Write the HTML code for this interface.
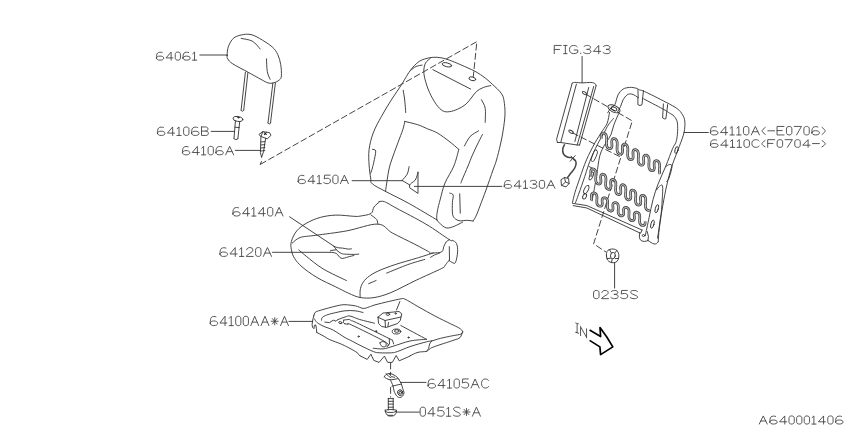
<!DOCTYPE html><html><head><meta charset="utf-8"><style>html,body{margin:0;padding:0;background:#fff;width:850px;height:425px;overflow:hidden}svg{display:block}text{font-family:"Liberation Sans",sans-serif;font-size:13px;fill:#444}</style></head><body>
<svg width="850" height="425" viewBox="0 0 850 425">
<g fill="none" stroke="#303030" stroke-width="0.9" stroke-linejoin="round" stroke-linecap="round">
<path d="M227.1,55.4 C227.2,53.3 227.3,49.2 228.5,46.2 C229.7,43.2 231.6,39.6 234.1,37.7 C236.6,35.8 240.5,35.1 243.3,34.6 C246.1,34.1 248.3,34.0 251.0,34.6 C253.7,35.2 256.0,36.4 259.5,38.4 C263.0,40.4 269.1,44.2 272.2,46.9 C275.2,49.6 276.4,51.7 277.8,54.6 C279.2,57.5 280.1,61.0 280.7,64.5 C281.3,68.0 281.6,73.2 281.4,75.8 C281.2,78.4 280.6,78.8 279.3,80.0 C278.0,81.2 275.5,82.4 273.6,82.9 C271.7,83.4 270.1,83.5 268.0,82.9 C265.9,82.3 264.3,81.2 261.0,79.4 C257.7,77.6 252.9,74.9 248.2,72.3 C243.5,69.7 236.1,66.0 232.7,63.8 C229.3,61.6 228.7,60.3 227.8,58.9 C226.9,57.5 227.0,57.5 227.1,55.4Z"/>
<path d="M241.2,38.4 C243.1,38.9 249.2,39.4 252.4,41.2 C255.6,43.0 258.9,47.7 260.2,49.0"/>
<path d="M266.5,58.9 C266.6,61.0 266.7,68.2 267.3,71.6 C267.9,75.0 269.6,78.0 270.1,79.3"/>
<path d="M241.1,110.2 C241.3,110.4 242.0,111.3 242.4,111.3 C242.8,111.3 243.5,110.4 243.7,110.2"/>
<path d="M268.0,123.0 C268.2,123.2 268.9,124.1 269.3,124.1 C269.7,124.1 270.3,123.2 270.5,123.0"/>
<path d="M234.0,138.6 C234.3,138.8 235.2,139.7 235.9,139.7 C236.6,139.7 237.6,138.8 237.9,138.6"/>
<path d="M437.4,220.2 C432.7,217.4 418.0,208.5 409.4,203.7 C400.8,198.9 391.7,194.7 385.5,191.4 C379.3,188.1 374.9,186.1 372.4,183.9 C369.9,181.7 371.2,181.2 370.7,178.0 C370.1,174.8 369.4,169.8 369.1,165.0 C368.8,160.2 368.4,154.7 369.1,149.4 C369.8,144.1 371.1,138.5 373.2,133.0 C375.2,127.5 378.4,122.0 381.4,116.5 C384.4,111.0 387.9,105.3 391.3,100.0 C394.7,94.7 399.1,88.5 401.6,84.5 C404.1,80.5 404.9,78.9 406.5,76.3 C408.1,73.7 409.6,71.2 411.5,68.9 C413.4,66.6 415.8,63.9 418.0,62.3 C420.2,60.6 422.1,59.8 424.6,59.0 C427.1,58.2 430.1,57.5 432.9,57.3 C435.6,57.1 438.4,57.3 441.1,57.8 C443.8,58.3 446.0,58.9 449.3,60.1 C452.6,61.3 456.5,62.9 460.8,64.8 C465.1,66.7 470.9,69.1 475.0,71.3 C479.1,73.5 482.2,75.8 485.2,78.0 C488.1,80.2 490.0,82.1 492.7,84.6 C495.4,87.1 499.3,90.5 501.2,93.2 C503.1,95.9 503.4,97.2 504.0,100.7 C504.6,104.2 505.1,108.9 505.0,113.9 C504.9,118.9 503.9,125.6 503.1,130.8 C502.3,136.0 501.4,140.1 500.3,145.0 C499.2,149.9 497.7,155.8 496.5,160.0 C495.3,164.2 494.8,165.0 493.0,170.0 C491.2,175.0 488.2,184.0 486.0,190.0 C483.8,196.0 481.6,201.8 480.0,206.0 C478.4,210.2 477.6,212.5 476.5,215.0 C475.4,217.5 473.8,220.0 473.2,221.0"/>
<path d="M473.2,221.0 C472.0,220.9 468.3,220.3 466.2,220.3 C464.1,220.3 462.1,221.1 460.3,220.9 C458.5,220.7 456.9,220.2 455.6,219.1 C454.3,218.0 453.1,217.2 452.6,214.4 C452.1,211.7 452.3,205.8 452.4,202.6 C452.5,199.4 453.6,196.6 453.2,195.0 C452.8,193.4 450.3,193.5 449.7,193.2"/>
<path d="M385.5,191.4 C385.8,189.5 386.6,183.4 387.2,179.8 C387.8,176.2 388.1,173.1 388.8,170.0 C389.5,166.9 389.8,165.5 391.3,161.0 C392.8,156.5 396.0,148.0 397.9,142.8 C399.8,137.6 401.6,133.3 402.8,129.7 C404.0,126.1 404.5,122.8 404.8,121.4"/>
<path d="M404.8,121.4 C406.9,122.0 413.9,123.5 417.7,124.7 C421.5,125.9 424.2,127.4 427.5,128.8 C430.8,130.2 433.8,130.9 437.4,133.0 C441.0,135.1 445.4,138.5 449.0,141.2 C452.6,143.9 457.2,148.0 458.8,149.4"/>
<path d="M458.8,149.4 C458.0,152.2 456.2,160.3 453.9,165.9 C451.6,171.5 447.3,177.5 445.0,183.0 C442.7,188.5 441.6,194.4 440.3,199.1 C439.0,203.8 438.0,207.6 437.4,210.9 C436.8,214.2 436.5,217.2 436.8,219.1 C437.1,221.0 437.5,221.1 439.1,222.6 C440.7,224.1 443.6,227.3 446.2,227.9 C448.8,228.5 451.7,227.2 454.4,226.2 C457.1,225.2 461.2,222.8 462.6,222.1"/>
<path d="M482.4,134.6 C481.4,136.5 478.4,142.3 476.7,145.9 C475.0,149.5 473.4,152.7 472.0,156.0 C470.6,159.3 469.7,162.0 468.0,166.0 C466.3,170.0 463.2,177.2 462.0,180.0 C460.8,182.8 461.2,182.5 461.0,183.0"/>
<path d="M478.6,130.8 C477.2,131.8 472.5,134.0 470.1,136.5 C467.8,139.0 465.4,144.3 464.5,145.9"/>
<path d="M481.4,99.8 C482.0,101.2 484.6,104.4 485.2,108.2 C485.8,112.0 485.2,120.0 485.2,122.4"/>
<path d="M430.4,58.2 C429.6,59.0 426.6,60.9 425.5,63.1 C424.4,65.3 423.8,68.3 423.8,71.3 C423.8,74.3 424.5,77.6 425.5,81.2 C426.5,84.8 427.8,88.9 429.6,92.7 C431.4,96.5 434.0,101.3 436.2,104.3 C438.4,107.3 440.5,109.6 442.7,110.8 C444.9,112.0 446.8,112.0 449.3,111.7 C451.8,111.4 454.9,110.4 457.6,109.2 C460.4,108.0 463.4,106.3 465.8,104.3 C468.2,102.3 470.2,99.2 472.0,97.0 C473.8,94.8 474.8,92.9 476.7,91.3 C478.6,89.7 480.9,88.5 483.3,87.5 C485.7,86.5 489.6,85.9 490.8,85.6"/>
<path d="M411.5,69.7 C412.2,69.2 414.2,67.3 416.0,66.5 C417.8,65.7 421.2,65.3 422.2,65.1"/>
<path d="M403.2,90.3 C403.5,92.1 404.4,97.3 404.8,101.0 C405.2,104.7 405.6,110.6 405.7,112.5"/>
<path d="M372.4,149.4 C372.9,149.7 375.5,149.0 375.7,151.1 C375.9,153.2 374.4,159.2 373.8,162.0 C373.2,164.8 372.9,166.1 372.4,168.0 C371.9,169.9 371.0,172.3 370.7,173.2"/>
<path d="M409.1,166.6 C408.8,167.8 408.4,171.8 407.2,174.1 C406.0,176.4 403.0,179.3 402.1,180.4"/>
<path d="M418.0,172.2 C417.9,172.8 417.6,174.2 417.1,175.5 C416.6,176.8 416.1,178.9 415.2,180.2 C414.3,181.4 412.4,182.2 411.5,183.0 C410.6,183.8 409.9,184.6 409.6,184.9"/>
<path d="M379.6,201.7 C378.7,202.6 375.4,205.0 374.0,207.0 C372.6,209.0 373.3,212.0 371.0,213.5 C368.7,215.0 362.9,215.6 360.0,216.1 C357.1,216.6 357.8,216.5 353.8,216.3 C349.8,216.1 341.5,214.9 335.9,215.1 C330.3,215.3 325.1,216.1 320.3,217.4 C315.5,218.7 310.7,220.8 306.8,223.0 C302.9,225.2 299.4,227.7 296.8,230.8 C294.2,233.9 292.3,238.2 291.4,241.4 C290.5,244.6 290.9,247.0 291.4,249.8 C291.9,252.6 292.7,255.5 294.5,258.3 C296.3,261.1 298.3,263.6 302.0,266.8 C305.7,270.0 311.2,274.0 316.8,277.4 C322.4,280.8 330.5,284.3 335.8,286.9 C341.1,289.5 344.4,291.4 348.5,293.2 C352.6,295.0 356.0,296.8 360.2,297.5 C364.4,298.2 368.8,298.4 373.9,297.6 C379.0,296.8 383.8,295.5 390.9,292.6 C397.9,289.7 407.8,284.2 416.2,280.2 C424.6,276.2 436.9,270.9 441.6,268.5 C446.4,266.1 443.6,267.0 444.7,265.9 C445.8,264.8 447.1,262.5 447.9,261.6 C448.7,260.7 449.2,260.8 449.5,260.6"/>
<path d="M378.9,201.7 C379.8,201.7 381.5,200.6 384.5,201.7 C387.5,202.8 389.9,204.7 396.8,208.4 C403.7,212.1 417.1,218.9 425.9,224.1 C434.7,229.3 445.0,237.0 449.4,239.7 C453.8,242.4 451.1,239.7 452.3,240.3 C453.5,240.9 455.6,241.6 456.5,243.5 C457.4,245.4 457.8,248.7 457.6,251.9 C457.4,255.1 456.4,260.7 455.5,262.5 C454.6,264.3 453.4,262.9 452.3,262.5 C451.2,262.1 449.6,260.8 449.1,260.4"/>
<path d="M449.4,239.7 C448.8,240.1 447.0,240.8 446.1,242.0 C445.2,243.2 444.5,244.9 443.8,246.6 C443.1,248.2 443.5,250.8 441.7,251.9 C439.9,253.0 435.3,252.8 433.2,253.0 C431.1,253.2 429.9,253.2 429.3,253.2"/>
<path d="M292.3,243.1 C293.6,242.2 296.2,238.8 300.1,237.5 C304.0,236.2 308.0,236.4 315.8,235.3 C323.6,234.2 336.8,232.7 347.1,230.8 C357.4,228.9 370.2,223.7 377.8,224.1 C385.4,224.5 386.2,229.7 392.4,233.0 C398.5,236.3 408.5,241.0 414.7,244.2 C420.9,247.4 426.9,250.7 429.3,252.0"/>
<path d="M371.0,215.0 C371.9,215.8 375.6,218.1 376.7,219.6 C377.8,221.1 377.6,223.3 377.8,224.1"/>
<path d="M360.2,297.5 C360.2,296.3 359.8,292.4 360.2,290.1 C360.6,287.8 361.1,285.8 362.3,283.7 C363.5,281.6 365.0,279.5 367.6,277.4 C370.2,275.3 373.6,273.1 378.2,271.0 C382.8,268.9 388.8,266.7 395.1,264.6 C401.5,262.5 410.0,260.2 416.3,258.3 C422.6,256.4 430.4,253.9 433.2,253.0"/>
<path d="M368.7,283.7 C369.9,283.2 374.9,281.0 376.1,280.5"/>
<path d="M386.7,273.1 C390.2,271.7 401.4,266.9 407.8,264.6 C414.2,262.3 422.0,260.3 424.8,259.4"/>
<path d="M430.6,257.3 C431.2,256.9 433.0,255.7 434.5,255.0 C436.0,254.3 438.7,253.5 439.5,253.2"/>
<path d="M298.8,249.8 C300.0,250.9 302.1,253.0 306.2,256.2 C310.2,259.4 316.4,264.8 323.1,268.9 C329.8,272.9 342.5,278.6 346.4,280.5"/>
<path d="M334.1,246.3 C334.7,246.5 336.3,247.4 337.7,247.7 C339.1,248.0 340.9,247.9 342.6,248.1 C344.4,248.3 346.7,249.0 348.2,249.1 C349.7,249.2 350.9,248.9 351.4,248.8"/>
<path d="M334.1,246.3 C334.6,247.0 335.8,249.3 337.0,250.5 C338.2,251.7 339.9,252.8 341.2,253.4 C342.5,254.0 342.6,253.9 344.7,254.1 C346.8,254.3 351.5,254.4 353.9,254.4 C356.2,254.4 358.0,254.2 358.8,254.1"/>
<path d="M330.6,252.3 C331.5,252.5 334.4,252.4 336.2,253.4 C338.0,254.4 339.2,257.7 341.2,258.3 C343.2,258.9 346.1,257.4 348.2,256.9 C350.3,256.4 352.9,255.7 353.9,255.5"/>
<path d="M313.9,315.5 C314.1,314.9 314.4,313.1 315.4,312.2 C316.4,311.3 317.9,311.1 320.1,310.4 C322.3,309.7 325.5,308.8 328.5,308.0 C331.5,307.2 335.1,306.2 337.9,305.6 C340.6,305.1 342.1,304.6 345.0,304.7 C347.9,304.8 352.5,305.3 355.5,305.9 C358.5,306.5 360.8,308.2 363.1,308.4 C365.4,308.6 367.2,307.5 369.2,306.9 C371.2,306.3 371.8,305.8 375.0,304.9 C378.2,304.0 384.4,302.5 388.7,301.5 C393.0,300.5 398.1,299.3 400.8,298.9 C403.5,298.5 402.2,297.9 405.1,299.2 C408.0,300.5 413.0,303.8 418.0,306.6 C423.0,309.4 429.7,313.2 435.1,316.1 C440.5,319.0 446.6,321.8 450.6,323.8 C454.6,325.8 457.2,326.8 459.2,328.1 C461.2,329.4 462.3,330.5 462.6,331.5 C462.9,332.5 462.6,333.4 460.9,334.1 C459.2,334.8 455.7,335.1 452.3,335.8 C448.9,336.5 443.7,337.5 440.3,338.4 C436.9,339.3 433.1,340.6 431.7,341.0"/>
<path d="M462.6,331.5 C462.2,332.5 461.5,336.1 460.1,337.5 C458.7,338.9 456.7,339.1 454.0,340.1 C451.3,341.1 447.1,342.4 443.7,343.5 C440.3,344.6 435.7,346.1 433.4,347.0 C431.1,347.9 431.1,348.0 430.0,348.7 C428.9,349.4 428.5,350.7 426.5,351.3 C424.5,351.9 420.8,351.6 418.0,352.3 C415.2,353.1 411.3,355.2 410.0,355.8"/>
<path d="M431.7,341.0 C431.4,341.5 430.1,342.8 429.6,344.0 C429.1,345.2 429.1,347.3 428.6,348.5 C428.1,349.7 426.9,350.8 426.5,351.3"/>
<path d="M316.8,332.5 C318.0,333.1 321.7,335.0 323.8,336.2 C325.9,337.4 326.5,338.1 329.5,339.5 C332.5,340.9 338.1,342.7 341.7,344.3 C345.3,345.9 348.3,347.5 350.9,348.9 C353.4,350.3 355.5,351.5 357.0,352.6 C358.5,353.8 359.5,355.3 360.0,355.8"/>
<path d="M314.4,318.8 C314.9,319.4 315.6,321.3 317.2,322.6 C318.8,323.9 321.1,325.1 323.8,326.4 C326.5,327.6 329.7,328.2 333.2,330.1 C336.7,332.0 342.1,335.9 345.0,337.6 C347.9,339.3 348.4,339.2 350.9,340.5 C353.4,341.8 356.3,343.5 360.0,345.3 C363.7,347.1 369.9,350.2 373.2,351.5 C376.5,352.8 376.7,352.6 379.8,352.8 C382.9,353.0 388.7,353.0 391.6,352.8 C394.6,352.6 394.4,352.5 397.5,351.5 C400.6,350.5 405.2,348.2 410.0,346.6 C414.8,345.0 422.9,342.7 426.5,341.8 C430.1,340.9 430.8,341.1 431.7,341.0"/>
<path d="M373.2,348.2 C374.9,348.3 379.8,349.2 383.1,348.9 C386.4,348.6 388.4,347.6 392.9,346.3 C397.4,345.0 404.4,342.2 410.0,341.0 C415.6,339.8 423.8,339.6 426.5,339.3"/>
<path d="M400.8,325.5 C405.1,327.8 422.2,337.0 426.5,339.3"/>
<path d="M321.5,320.2 C321.6,319.7 321.5,318.2 322.4,317.4 C323.2,316.5 324.8,315.8 326.6,315.1 C328.4,314.4 330.1,313.9 333.2,313.2 C336.3,312.5 341.4,311.2 345.0,310.8 C348.6,310.4 352.0,310.5 355.0,310.8 C358.0,311.1 361.7,312.2 363.0,312.5"/>
<path d="M337.5,319.8 C338.8,319.3 342.9,317.6 345.0,317.0 C347.1,316.4 347.6,315.6 350.0,316.0 C352.4,316.4 355.6,318.3 359.7,319.5 C363.8,320.7 372.0,322.6 374.5,323.2"/>
<path d="M343.8,320.1 C344.7,320.0 347.9,319.4 349.1,319.5 C350.3,319.6 350.0,320.1 351.2,320.6 C352.4,321.1 350.1,319.7 356.5,322.7 C362.9,325.7 383.3,335.6 389.3,338.6 C395.3,341.6 391.8,339.8 392.5,340.7 C393.2,341.6 393.4,343.4 393.6,343.9"/>
<path d="M344.8,323.8 C345.3,323.9 346.9,324.1 348.0,324.3 C349.1,324.5 345.0,321.9 351.2,324.8 C357.4,327.7 379.1,338.2 385.1,341.8 C391.1,345.4 386.9,345.7 387.2,346.5"/>
<path d="M343.8,320.1 C343.8,320.5 343.3,321.9 343.5,322.5 C343.7,323.1 344.6,323.6 344.8,323.8"/>
<path d="M380.0,342.8 C380.2,342.0 382.0,341.5 383.0,341.6 C384.0,341.7 385.6,342.5 386.0,343.3 C386.4,344.1 386.2,346.0 385.5,346.5 C384.8,347.0 382.9,347.0 382.0,346.4 C381.1,345.8 379.8,343.6 380.0,342.8Z"/>
<path d="M384.2,377.1 C384.5,376.7 385.0,375.1 386.0,374.5 C387.0,373.9 388.7,373.4 390.0,373.5 C391.3,373.6 392.8,374.3 394.0,375.0 C395.2,375.7 396.7,376.8 397.5,377.5 C398.3,378.2 398.5,378.9 398.7,379.2"/>
<path d="M385.0,377.6 C385.7,377.9 387.5,379.3 389.0,379.6 C390.5,379.9 392.6,379.6 394.0,379.4 C395.4,379.2 396.9,378.7 397.5,378.6"/>
<path d="M386.2,373.6 C386.6,374.0 387.7,375.5 388.5,376.2 C389.3,376.9 390.6,377.4 391.0,377.6"/>
<path d="M389.5,374.2 C389.8,374.6 390.7,376.0 391.5,376.5 C392.3,377.0 394.0,377.2 394.5,377.3"/>
<path d="M390.6,380.2 C391.0,381.2 392.5,384.4 393.1,386.2 C393.7,388.0 393.5,389.5 394.1,391.2 C394.7,392.9 395.9,395.1 396.9,396.1 C397.8,397.2 398.9,397.5 399.8,397.5 C400.8,397.5 401.9,396.9 402.6,396.1 C403.3,395.3 404.0,393.9 404.0,392.6 C404.0,391.3 403.1,389.8 402.6,388.3 C402.1,386.8 401.9,384.9 401.2,383.4 C400.5,381.9 399.1,379.9 398.7,379.2"/>
<path d="M385.2,410.2 C385.2,410.6 385.1,411.6 385.5,412.4 C385.9,413.2 386.7,414.5 387.3,415.1 C387.9,415.7 388.4,415.9 389.2,416.0 C390.0,416.1 391.3,416.1 392.2,416.0 C393.1,415.9 394.0,415.8 394.7,415.1 C395.4,414.4 396.2,412.6 396.5,411.8 C396.8,411.0 396.2,410.5 396.2,410.2"/>
<path d="M385.2,410.2 C385.7,410.1 387.4,409.7 388.3,409.6 C389.2,409.5 390.0,409.5 390.8,409.5 C391.6,409.5 392.3,409.5 393.2,409.6 C394.1,409.7 395.7,410.1 396.2,410.2"/>
<path d="M572.2,83.2 C572.6,83.1 572.9,82.5 574.7,82.4 C576.5,82.4 580.4,82.9 582.9,82.9 C585.4,82.9 587.6,82.4 589.5,82.4 C591.4,82.5 593.4,82.7 594.5,83.2 C595.6,83.8 595.8,85.3 596.1,85.7"/>
<path d="M607.7,112.8 C608.2,112.0 609.8,109.3 611.0,108.0 C612.2,106.7 613.6,106.9 614.8,104.7 C616.0,102.5 616.7,97.4 618.1,94.8 C619.5,92.2 621.2,90.3 623.1,89.1 C625.0,87.9 627.5,87.6 629.7,87.4 C631.9,87.2 634.6,87.8 636.2,88.2 C637.8,88.6 638.1,89.4 639.5,89.9 C640.9,90.5 640.1,89.5 644.5,91.5 C648.9,93.5 660.4,99.3 665.9,102.2 C671.4,105.1 674.6,106.7 677.4,108.8 C680.1,110.9 681.2,112.5 682.4,114.6 C683.6,116.7 684.5,118.2 684.8,121.2 C685.1,124.2 684.9,128.5 684.0,132.7 C683.1,136.9 681.4,140.5 679.3,146.5 C677.1,152.5 673.3,161.4 671.1,168.5 C668.9,175.6 667.4,182.3 665.9,189.2 C664.4,196.1 663.1,203.9 662.0,210.0 C660.9,216.1 660.0,220.2 659.4,225.5 C658.8,230.8 658.4,239.1 658.2,241.8"/>
<path d="M617.5,112.0 C618.0,111.1 619.7,108.4 620.6,106.4 C621.5,104.4 622.0,101.7 623.1,99.8 C624.2,97.9 625.8,95.8 627.2,94.8 C628.6,93.8 629.9,93.8 631.3,94.0 C632.7,94.2 634.3,95.1 635.4,95.7 C636.5,96.3 637.5,97.2 637.9,97.5"/>
<path d="M643.7,98.9 C646.9,100.6 658.4,106.5 662.6,108.8 C666.9,111.1 667.3,111.7 669.2,112.9 C671.1,114.1 672.7,114.6 674.1,116.2 C675.5,117.8 676.9,119.8 677.4,122.8 C677.9,125.8 677.7,131.1 677.4,134.4 C677.1,137.7 676.6,140.2 675.8,142.6 C675.0,144.9 674.2,144.6 672.6,148.5 C671.0,152.4 668.3,160.0 665.9,165.9 C663.5,171.8 660.2,178.4 658.1,184.0 C656.0,189.6 654.5,194.0 653.0,199.6 C651.5,205.2 650.4,211.6 649.1,217.7 C647.8,223.8 645.9,232.9 645.2,235.9"/>
<path d="M609.5,112.5 C609.1,114.3 608.4,120.2 607.2,123.2 C606.0,126.2 604.6,127.3 602.5,130.7 C600.4,134.0 597.4,138.5 594.7,143.3 C592.0,148.2 589.0,154.0 586.5,159.8 C584.0,165.6 581.8,172.4 579.9,177.9 C578.0,183.4 576.1,188.6 574.9,192.7 C573.7,196.8 572.9,200.8 572.5,202.4"/>
<path d="M613.5,118.5 C612.6,119.6 609.7,122.8 608.2,125.1 C606.7,127.3 606.3,128.7 604.5,132.0 C602.7,135.3 599.7,140.0 597.2,144.9 C594.8,149.8 592.1,155.4 589.8,161.4 C587.5,167.4 585.3,175.2 583.2,181.2 C581.1,187.2 578.7,194.0 577.4,197.6 C576.1,201.2 575.8,201.8 575.5,202.6"/>
<path d="M618.5,114.0 C617.7,115.8 615.0,121.7 613.8,125.1 C612.5,128.5 612.2,131.7 611.0,134.5 C609.8,137.3 607.9,139.8 606.5,142.0 C605.1,144.2 604.1,145.5 602.9,148.0 C601.7,150.5 600.5,152.8 599.5,157.0 C598.5,161.2 597.7,168.6 597.0,173.2 C596.3,177.8 595.9,180.1 595.1,184.5 C594.3,188.9 592.8,197.0 592.3,199.5"/>
<path d="M596.5,150.3 C597.0,150.6 597.8,151.1 597.4,152.8 C597.0,154.5 595.1,159.0 594.2,160.4 C593.3,161.8 592.6,161.6 592.1,161.4 C591.6,161.2 590.8,160.9 591.2,159.2 C591.6,157.5 593.4,152.5 594.3,151.0 C595.2,149.5 596.0,150.0 596.5,150.3Z"/>
<path d="M639.8,233.2 C639.7,233.9 639.2,236.0 639.4,237.2 C639.6,238.4 640.1,239.8 641.0,240.5 C641.9,241.2 643.5,241.4 644.7,241.4 C645.9,241.4 647.5,240.7 648.0,240.5"/>
<path d="M648.0,240.5 C648.5,240.8 650.0,241.9 651.0,242.5 C652.0,243.1 653.1,243.7 654.0,243.9 C654.9,244.1 655.8,243.9 656.5,243.6 C657.2,243.2 657.9,242.1 658.2,241.8"/>
<path d="M656.5,190.0 C657.0,189.4 658.4,187.1 659.4,186.4 C660.4,185.7 662.0,183.7 662.5,186.0 C663.0,188.3 662.5,194.3 662.2,200.0 C661.9,205.7 661.3,213.7 660.5,220.0 C659.7,226.3 658.0,235.0 657.5,238.0"/>
<path d="M666.0,166.5 C666.6,166.2 668.5,164.5 669.5,164.5 C670.5,164.5 672.1,164.2 672.0,166.5 C671.9,168.8 669.9,175.5 669.0,178.0 C668.1,180.5 666.9,180.9 666.5,181.5"/>
<path d="M606.5,256.0 C606.4,254.6 606.5,252.6 607.0,251.5 C607.5,250.4 608.4,249.9 609.5,249.5 C610.6,249.1 612.2,248.8 613.5,249.0 C614.8,249.2 616.1,249.6 617.0,250.5 C617.9,251.4 618.6,253.0 618.8,254.5 C619.0,256.0 618.8,258.2 618.2,259.5 C617.7,260.8 616.7,261.8 615.5,262.3 C614.3,262.8 612.3,262.9 611.0,262.5 C609.7,262.1 608.2,261.1 607.5,260.0 C606.8,258.9 606.6,257.4 606.5,256.0Z"/>
<path d="M199.8,55.0 L227.3,55.0"/>
<path d="M245.4,72.2 L241.1,110.2"/>
<path d="M247.9,72.6 L243.7,110.2"/>
<path d="M272.9,82.9 L268.0,123.0"/>
<path d="M275.4,82.9 L270.5,123.0"/>
<path d="M235.4,121.3 L234.0,138.6"/>
<path d="M239.7,121.6 L237.9,138.6"/>
<path d="M235.0,127.2 L239.2,127.6"/>
<path d="M211.2,131.4 L234.3,131.4"/>
<path d="M259.3,134.2 L262.8,131.6 L269.5,132.6 L271.0,135.4 L267.3,138.8 L261.0,136.5Z"/>
<path d="M261.0,136.5 L262.8,131.6"/>
<path d="M260.9,137.2 L260.4,152.6 L261.6,157.2"/>
<path d="M265.6,138.6 L263.5,151.8 L261.6,157.2"/>
<path d="M261.0,142.0 L264.8,141.6"/>
<path d="M261.0,145.0 L264.8,144.6"/>
<path d="M261.0,148.0 L264.8,147.6"/>
<path d="M261.0,151.0 L264.8,150.6"/>
<path d="M235.3,150.4 L260.5,150.4"/>
<path d="M260.3,164.4 L261.4,161.5"/>
<path d="M459.7,193.8 L460.3,213.2"/>
<path d="M432.9,69.7 L470.7,89.1"/>
<path d="M352.1,180.7 L402.0,180.7"/>
<path d="M402.1,180.4 L409.6,184.9 L409.6,187.8 L418.0,193.4 L418.0,172.2"/>
<path d="M414.4,186.4 L501.8,186.4"/>
<path d="M449.3,246.6 L449.5,260.6"/>
<path d="M289.6,216.8 L334.1,246.3"/>
<path d="M272.5,252.3 L330.6,252.3"/>
<path d="M330.6,250.5 L336.2,249.8"/>
<path d="M313.9,315.5 L313.0,318.8 L312.5,321.6 L312.1,324.5 L312.5,327.3 L313.9,328.7 L314.4,325.4 L315.8,324.9 L316.3,328.2 L316.8,332.5"/>
<path d="M360.0,355.8 L367.2,359.4 L370.9,354.2 L373.8,360.4 L379.1,362.4 L384.4,356.1 L387.7,362.4 L392.3,362.4 L396.2,355.5 L399.2,360.8 L410.0,356.1"/>
<path d="M324.8,322.1 L329.5,322.6 L333.2,320.2 L336.1,321.2 L337.5,319.8"/>
<path d="M389.3,338.6 L389.5,344.0 L387.2,346.5"/>
<path d="M378.0,317.2 L383.0,313.0 L399.0,311.5 L401.8,313.8 L401.0,317.0 L385.0,320.5 L378.0,317.2"/>
<path d="M378.0,317.2 L378.6,323.5 L381.5,326.4 L386.5,327.4 L397.5,323.5 L400.3,320.5 L401.0,317.0"/>
<path d="M385.0,320.5 L385.5,327.2"/>
<path d="M399.9,301.5 L396.5,310.0"/>
<path d="M388.5,322.5 L387.9,326.5"/>
<path d="M288.9,321.4 L312.7,321.4"/>
<path d="M392.0,386.2 L401.2,384.1"/>
<path d="M400.5,382.4 L426.0,382.4"/>
<path d="M388.3,398.3 L388.3,409.9"/>
<path d="M393.2,398.3 L393.2,409.9"/>
<path d="M388.3,398.6 L393.2,398.6"/>
<path d="M388.3,401.3 L393.2,401.3"/>
<path d="M388.3,404.1 L393.2,404.1"/>
<path d="M388.3,407.2 L393.2,407.2"/>
<path d="M388.0,415.3 L392.9,415.3"/>
<path d="M385.4,411.6 L388.0,412.4 L393.5,412.4 L396.4,411.2"/>
<path d="M396.5,412.1 L419.4,412.1"/>
<path d="M582.1,56.5 L582.1,82.6"/>
<path d="M572.2,83.2 L556.6,139.2 L557.4,142.5"/>
<path d="M576.4,84.1 L560.7,142.5"/>
<path d="M596.1,85.7 L579.6,145.0"/>
<path d="M593.7,86.5 L577.2,145.0"/>
<path d="M588.7,87.5 L574.9,141.5"/>
<path d="M557.4,142.5 L560.7,142.5 L577.2,145.0 L579.6,145.0"/>
<path d="M570.2,161.2 L575.2,155.6"/>
<path d="M571.2,156.2 L574.6,160.8"/>
<path d="M561.3,179.5 L564.5,177.5 L568.6,178.5 L569.1,183.5 L566.0,186.9 L561.8,185.5Z"/>
<path d="M564.5,177.5 L565.5,182.0 L569.1,183.5"/>
<path d="M565.5,182.0 L561.8,185.5"/>
<path d="M637.9,97.5 L637.9,104.7 L640.0,105.5 L642.0,104.7 L642.6,98.5"/>
<path d="M637.9,89.9 L638.2,97.5"/>
<path d="M643.5,90.7 L642.6,98.5"/>
<path d="M663.4,103.9 L662.6,117.9 L664.5,118.9 L665.9,118.7 L667.5,106.0"/>
<path d="M667.5,104.7 L667.5,106.0"/>
<path d="M589.0,166.5 L593.0,168.5"/>
<path d="M572.5,203.3 L586.9,205.6 L642.0,230.0"/>
<path d="M573.2,205.6 L586.9,208.0 L639.5,232.8"/>
<path d="M642.0,230.0 L640.6,233.2 L639.5,232.8"/>
<path d="M647.2,231.5 L648.4,236.4 L648.0,240.5"/>
<path d="M684.0,132.5 L708.3,132.5"/>
<path d="M609.5,249.7 L611.2,252.6"/>
<path d="M616.8,250.6 L615.0,252.8"/>
<path d="M607.2,258.5 L610.4,258.4"/>
<path d="M618.4,258.4 L615.4,258.6"/>
<path d="M611.5,262.3 L612.2,259.0"/>
<path d="M614.6,262.6 L614.6,288.1"/>
<ellipse cx="237.9" cy="119.0" rx="4.9" ry="2.4" transform="rotate(8.0 237.9 119.0)"/>
<ellipse cx="446.9" cy="64.8" rx="4.8" ry="1.9" transform="rotate(12.0 446.9 64.8)"/>
<ellipse cx="472.3" cy="78.8" rx="3.5" ry="1.8" transform="rotate(15.0 472.3 78.8)"/>
<ellipse cx="340.3" cy="322.6" rx="1.6" ry="1.0" transform="rotate(15.0 340.3 322.6)"/>
<ellipse cx="387.9" cy="314.3" rx="1.8" ry="1.1" transform="rotate(0.0 387.9 314.3)"/>
<ellipse cx="395.6" cy="313.5" rx="0.7" ry="0.6" transform="rotate(0.0 395.6 313.5)"/>
<ellipse cx="396.5" cy="331.5" rx="4.3" ry="2.5" transform="rotate(0.0 396.5 331.5)"/>
<ellipse cx="396.8" cy="331.0" rx="2.3" ry="1.3" transform="rotate(0.0 396.8 331.0)"/>
<ellipse cx="358.6" cy="336.5" rx="0.7" ry="0.6" transform="rotate(0.0 358.6 336.5)"/>
<ellipse cx="376.1" cy="331.2" rx="0.6" ry="0.6" transform="rotate(0.0 376.1 331.2)"/>
<ellipse cx="408.5" cy="337.5" rx="0.6" ry="0.6" transform="rotate(0.0 408.5 337.5)"/>
<ellipse cx="400.2" cy="392.6" rx="2.6" ry="2.9" transform="rotate(-20.0 400.2 392.6)"/>
<ellipse cx="400.2" cy="392.6" rx="1.3" ry="1.5" transform="rotate(-20.0 400.2 392.6)"/>
<ellipse cx="584.6" cy="93.1" rx="2.6" ry="1.2" transform="rotate(30.0 584.6 93.1)"/>
<ellipse cx="571.1" cy="131.8" rx="2.6" ry="1.2" transform="rotate(30.0 571.1 131.8)"/>
<ellipse cx="614.0" cy="108.8" rx="6.5" ry="3.3" transform="rotate(25.0 614.0 108.8)"/>
<ellipse cx="614.0" cy="108.8" rx="3.0" ry="1.6" transform="rotate(25.0 614.0 108.8)"/>
<ellipse cx="591.3" cy="176.0" rx="1.6" ry="4.2" transform="rotate(22.0 591.3 176.0)"/>
<ellipse cx="586.3" cy="189.5" rx="2.0" ry="4.4" transform="rotate(25.0 586.3 189.5)"/>
<ellipse cx="584.6" cy="196.4" rx="1.7" ry="2.8" transform="rotate(25.0 584.6 196.4)"/>
<ellipse cx="643.5" cy="235.5" rx="1.2" ry="1.0" transform="rotate(0.0 643.5 235.5)"/>
<ellipse cx="656.8" cy="208.7" rx="1.5" ry="4.2" transform="rotate(15.0 656.8 208.7)"/>
<ellipse cx="652.4" cy="224.2" rx="1.5" ry="4.2" transform="rotate(15.0 652.4 224.2)"/>
<ellipse cx="676.5" cy="150.0" rx="1.5" ry="3.5" transform="rotate(15.0 676.5 150.0)"/>
<ellipse cx="612.9" cy="255.6" rx="2.4" ry="3.2" transform="rotate(10.0 612.9 255.6)"/>
</g>
<g fill="none" stroke="#303030" stroke-width="0.9" stroke-dasharray="6.8,2.5">
<path d="M260.3,164.4 L476.9,41.6 L473.2,77.4"/>
<path d="M390.6,362.6 L390.6,375.0"/>
<path d="M390.6,387.0 L390.6,397.5"/>
<path d="M585.4,94.0 L632.3,120.9 L593.6,243.8 L606.2,252.2"/>
<path d="M572.2,132.7 L620.9,157.2"/>
</g>
<ellipse cx="238.5" cy="117.6" rx="1.3" ry="0.8" fill="#222"/>
<path d="M263.8,132.6 L266.8,134.6 M266.5,132.4 L264.2,134.8" stroke="#222" stroke-width="1.1"/>
<path d="M564.7,144.3 C564.4,145.0 563.0,147.1 562.8,148.7 C562.6,150.3 562.7,152.4 563.4,153.8 C564.1,155.2 565.9,156.4 567.2,157.0 C568.5,157.6 569.9,157.2 571.1,157.6 C572.3,158.0 573.7,158.7 574.5,159.5 C575.3,160.3 576.0,161.3 576.1,162.7 C576.2,164.1 575.7,166.1 574.9,167.8 C574.1,169.5 572.4,171.1 571.1,172.8 C569.8,174.5 567.9,177.1 567.2,177.9" fill="none" stroke="#444" stroke-width="1.5"/>
<path d="M589.6,330 L600.6,336.5 L600.0,327.6 L606.8,337.0 L612.8,346.9 L600.6,354.6 L599.9,346.9 L589.6,340.4" fill="none" stroke="#000" stroke-width="1.7" stroke-linejoin="round"/>
<path d="M601.32,138.94 L601.22,137.86 L601.15,136.78 L601.15,135.77 L601.28,134.86 L601.57,134.10 L602.04,133.53 L602.65,133.17 L603.37,133.05 L604.13,133.17 L604.87,133.54 L605.53,134.16 L606.06,134.99 L606.42,136.03 L606.62,137.23 L606.67,138.55 L606.61,139.95 L606.52,141.39 L606.44,142.81 L606.45,144.16 L606.60,145.40 L606.91,146.49 L607.39,147.39 L608.02,148.07 L608.74,148.52 L609.51,148.71 L610.24,148.66 L610.89,148.37 L611.41,147.86 L611.75,147.16 L611.93,146.29 L611.97,145.30 L611.90,144.24 L611.81,143.15 L611.74,142.08 L611.76,141.09 L611.92,140.21 L612.25,139.48 L612.75,138.95 L613.39,138.64 L614.12,138.56 L614.88,138.74 L615.61,139.16 L616.25,139.82 L616.75,140.70 L617.08,141.77 L617.24,142.99 L617.26,144.34 L617.19,145.75 L617.10,147.19 L617.03,148.60 L617.07,149.93 L617.25,151.14 L617.59,152.20 L618.11,153.05 L618.76,153.69 L619.49,154.09 L620.26,154.24 L620.98,154.14 L621.61,153.80 L622.09,153.25 L622.40,152.51 L622.55,151.61 L622.56,150.61 L622.48,149.54 L622.39,148.45 L622.33,147.39 L622.38,146.41 L622.58,145.56 L622.94,144.87 L623.47,144.38 L624.13,144.12 L624.87,144.09 L625.63,144.31 L626.35,144.78 L626.96,145.49 L627.43,146.41 L627.72,147.51 L627.85,148.77 L627.85,150.13 L627.78,151.55 L627.68,152.98 L627.63,154.38 L627.69,155.70 L627.90,156.88 L628.28,157.90 L628.83,158.71 L629.50,159.30 L630.25,159.65 L631.01,159.75 L631.72,159.60 L632.32,159.22 L632.76,158.63 L633.04,157.85 L633.16,156.93 L633.15,155.91 L633.07,154.83 L632.97,153.74 L632.93,152.70 L633.01,151.74 L633.23,150.92 L633.63,150.27 L634.19,149.82 L634.87,149.60 L635.62,149.63 L636.38,149.90 L637.08,150.42 L637.67,151.17 L638.10,152.13 L638.36,153.27 L638.46,154.54 L638.44,155.92 L638.36,157.35 L638.26,158.78 L638.23,160.17 L638.32,161.46 L638.57,162.61 L638.98,163.59 L639.55,164.36 L640.24,164.90 L641.00,165.20 L641.76,165.25 L642.45,165.05 L643.02,164.63 L643.43,164.00 L643.68,163.19 L643.77,162.25 L643.74,161.21 L643.64,160.12 L643.56,159.04 L643.54,158.01 L643.64,157.08 L643.90,156.29 L644.33,155.68 L644.92,155.27 L645.62,155.10 L646.38,155.17 L647.13,155.50 L647.81,156.06 L648.37,156.86 L648.77,157.85 L648.99,159.02 L649.07,160.33 L649.03,161.72 L648.93,163.15 L648.85,164.58 L648.84,165.94 L648.96,167.21 L649.24,168.33 L649.68,169.27 L650.28,170.00 L650.99,170.49 L651.75,170.74 L652.50,170.74 L653.17,170.50 L653.72,170.03 L654.10,169.36 L654.31,168.52 L654.37,167.56 L654.32,166.50 L654.22,165.42 L654.15,164.34 L654.15,163.33 L654.28,162.42 L654.57,161.66 L655.04,161.09 L655.65,160.73 L656.37,160.61 L657.13,160.73 L657.87,161.10 L658.53,161.72 L659.06,162.55 L659.42,163.59 L659.62,164.79 L659.67,166.11 L659.61,167.51 L659.52,168.95 L659.44,170.37 L659.45,171.72 L659.60,172.96 L659.91,174.05" fill="none" stroke="#454545" stroke-width="2.7"/>
<path d="M601.32,138.94 L601.22,137.86 L601.15,136.78 L601.15,135.77 L601.28,134.86 L601.57,134.10 L602.04,133.53 L602.65,133.17 L603.37,133.05 L604.13,133.17 L604.87,133.54 L605.53,134.16 L606.06,134.99 L606.42,136.03 L606.62,137.23 L606.67,138.55 L606.61,139.95 L606.52,141.39 L606.44,142.81 L606.45,144.16 L606.60,145.40 L606.91,146.49 L607.39,147.39 L608.02,148.07 L608.74,148.52 L609.51,148.71 L610.24,148.66 L610.89,148.37 L611.41,147.86 L611.75,147.16 L611.93,146.29 L611.97,145.30 L611.90,144.24 L611.81,143.15 L611.74,142.08 L611.76,141.09 L611.92,140.21 L612.25,139.48 L612.75,138.95 L613.39,138.64 L614.12,138.56 L614.88,138.74 L615.61,139.16 L616.25,139.82 L616.75,140.70 L617.08,141.77 L617.24,142.99 L617.26,144.34 L617.19,145.75 L617.10,147.19 L617.03,148.60 L617.07,149.93 L617.25,151.14 L617.59,152.20 L618.11,153.05 L618.76,153.69 L619.49,154.09 L620.26,154.24 L620.98,154.14 L621.61,153.80 L622.09,153.25 L622.40,152.51 L622.55,151.61 L622.56,150.61 L622.48,149.54 L622.39,148.45 L622.33,147.39 L622.38,146.41 L622.58,145.56 L622.94,144.87 L623.47,144.38 L624.13,144.12 L624.87,144.09 L625.63,144.31 L626.35,144.78 L626.96,145.49 L627.43,146.41 L627.72,147.51 L627.85,148.77 L627.85,150.13 L627.78,151.55 L627.68,152.98 L627.63,154.38 L627.69,155.70 L627.90,156.88 L628.28,157.90 L628.83,158.71 L629.50,159.30 L630.25,159.65 L631.01,159.75 L631.72,159.60 L632.32,159.22 L632.76,158.63 L633.04,157.85 L633.16,156.93 L633.15,155.91 L633.07,154.83 L632.97,153.74 L632.93,152.70 L633.01,151.74 L633.23,150.92 L633.63,150.27 L634.19,149.82 L634.87,149.60 L635.62,149.63 L636.38,149.90 L637.08,150.42 L637.67,151.17 L638.10,152.13 L638.36,153.27 L638.46,154.54 L638.44,155.92 L638.36,157.35 L638.26,158.78 L638.23,160.17 L638.32,161.46 L638.57,162.61 L638.98,163.59 L639.55,164.36 L640.24,164.90 L641.00,165.20 L641.76,165.25 L642.45,165.05 L643.02,164.63 L643.43,164.00 L643.68,163.19 L643.77,162.25 L643.74,161.21 L643.64,160.12 L643.56,159.04 L643.54,158.01 L643.64,157.08 L643.90,156.29 L644.33,155.68 L644.92,155.27 L645.62,155.10 L646.38,155.17 L647.13,155.50 L647.81,156.06 L648.37,156.86 L648.77,157.85 L648.99,159.02 L649.07,160.33 L649.03,161.72 L648.93,163.15 L648.85,164.58 L648.84,165.94 L648.96,167.21 L649.24,168.33 L649.68,169.27 L650.28,170.00 L650.99,170.49 L651.75,170.74 L652.50,170.74 L653.17,170.50 L653.72,170.03 L654.10,169.36 L654.31,168.52 L654.37,167.56 L654.32,166.50 L654.22,165.42 L654.15,164.34 L654.15,163.33 L654.28,162.42 L654.57,161.66 L655.04,161.09 L655.65,160.73 L656.37,160.61 L657.13,160.73 L657.87,161.10 L658.53,161.72 L659.06,162.55 L659.42,163.59 L659.62,164.79 L659.67,166.11 L659.61,167.51 L659.52,168.95 L659.44,170.37 L659.45,171.72 L659.60,172.96 L659.91,174.05" fill="none" stroke="#e6e6e6" stroke-width="0.9"/>
<path d="M590.97,176.61 L591.01,175.61 L590.94,174.52 L590.81,173.39 L590.72,172.29 L590.73,171.27 L590.91,170.38 L591.28,169.67 L591.83,169.18 L592.53,168.94 L593.31,168.97 L594.09,169.27 L594.80,169.83 L595.37,170.65 L595.76,171.70 L595.96,172.92 L595.99,174.29 L595.90,175.74 L595.78,177.22 L595.69,178.67 L595.71,180.03 L595.91,181.26 L596.29,182.31 L596.85,183.14 L597.56,183.71 L598.34,184.02 L599.13,184.05 L599.83,183.82 L600.39,183.33 L600.76,182.63 L600.94,181.74 L600.96,180.72 L600.87,179.62 L600.74,178.50 L600.66,177.40 L600.70,176.40 L600.90,175.53 L601.30,174.86 L601.88,174.40 L602.59,174.20 L603.38,174.27 L604.16,174.61 L604.85,175.22 L605.39,176.07 L605.75,177.14 L605.92,178.39 L605.93,179.77 L605.83,181.23 L605.71,182.71 L605.63,184.15 L605.68,185.50 L605.90,186.71 L606.31,187.72 L606.90,188.51 L607.63,189.05 L608.41,189.31 L609.19,189.30 L609.87,189.03 L610.40,188.51 L610.75,187.78 L610.90,186.87 L610.90,185.84 L610.80,184.73 L610.67,183.60 L610.61,182.52 L610.67,181.53 L610.90,180.69 L611.33,180.05 L611.93,179.63 L612.66,179.47 L613.45,179.58 L614.22,179.96 L614.89,180.60 L615.41,181.49 L615.74,182.59 L615.88,183.87 L615.87,185.26 L615.76,186.73 L615.64,188.20 L615.58,189.63 L615.65,190.97 L615.90,192.15 L616.34,193.13 L616.95,193.88 L617.69,194.38 L618.48,194.60 L619.25,194.55 L619.91,194.24 L620.42,193.69 L620.73,192.93 L620.86,192.00 L620.84,190.95 L620.73,189.83 L620.61,188.71 L620.56,187.64 L620.64,186.67 L620.90,185.86 L621.36,185.24 L621.98,184.86 L622.73,184.74 L623.52,184.89 L624.28,185.31 L624.93,185.99 L625.42,186.92 L625.72,188.05 L625.84,189.34 L625.81,190.75 L625.70,192.22 L625.58,193.70 L625.53,195.12 L625.63,196.43 L625.90,197.58 L626.37,198.53 L627.01,199.25 L627.76,199.70 L628.55,199.89 L629.31,199.80 L629.95,199.45 L630.43,198.86 L630.71,198.07 L630.82,197.12 L630.78,196.06 L630.66,194.94 L630.55,193.82 L630.51,192.76 L630.62,191.81 L630.91,191.02 L631.39,190.44 L632.04,190.10 L632.79,190.02 L633.59,190.21 L634.33,190.67 L634.97,191.39 L635.43,192.35 L635.70,193.51 L635.79,194.82 L635.75,196.24 L635.63,197.72 L635.51,199.19 L635.49,200.59 L635.61,201.88 L635.91,203.01 L636.41,203.93 L637.06,204.61 L637.83,205.02 L638.62,205.16 L639.36,205.03 L639.98,204.65 L640.43,204.03 L640.69,203.21 L640.77,202.24 L640.71,201.16 L640.59,200.04 L640.48,198.93 L640.46,197.88 L640.60,196.95 L640.92,196.20 L641.43,195.65 L642.09,195.34 L642.86,195.30 L643.65,195.53 L644.39,196.04 L645.00,196.79 L645.43,197.78 L645.68,198.97 L645.74,200.30 L645.68,201.74 L645.56,203.21 L645.45,204.68 L645.44,206.07 L645.59,207.34 L645.92,208.44 L646.45,209.32 L647.12,209.96 L647.90,210.33 L648.69,210.43 L649.41,210.27 L650.01,209.84" fill="none" stroke="#454545" stroke-width="2.7"/>
<path d="M590.97,176.61 L591.01,175.61 L590.94,174.52 L590.81,173.39 L590.72,172.29 L590.73,171.27 L590.91,170.38 L591.28,169.67 L591.83,169.18 L592.53,168.94 L593.31,168.97 L594.09,169.27 L594.80,169.83 L595.37,170.65 L595.76,171.70 L595.96,172.92 L595.99,174.29 L595.90,175.74 L595.78,177.22 L595.69,178.67 L595.71,180.03 L595.91,181.26 L596.29,182.31 L596.85,183.14 L597.56,183.71 L598.34,184.02 L599.13,184.05 L599.83,183.82 L600.39,183.33 L600.76,182.63 L600.94,181.74 L600.96,180.72 L600.87,179.62 L600.74,178.50 L600.66,177.40 L600.70,176.40 L600.90,175.53 L601.30,174.86 L601.88,174.40 L602.59,174.20 L603.38,174.27 L604.16,174.61 L604.85,175.22 L605.39,176.07 L605.75,177.14 L605.92,178.39 L605.93,179.77 L605.83,181.23 L605.71,182.71 L605.63,184.15 L605.68,185.50 L605.90,186.71 L606.31,187.72 L606.90,188.51 L607.63,189.05 L608.41,189.31 L609.19,189.30 L609.87,189.03 L610.40,188.51 L610.75,187.78 L610.90,186.87 L610.90,185.84 L610.80,184.73 L610.67,183.60 L610.61,182.52 L610.67,181.53 L610.90,180.69 L611.33,180.05 L611.93,179.63 L612.66,179.47 L613.45,179.58 L614.22,179.96 L614.89,180.60 L615.41,181.49 L615.74,182.59 L615.88,183.87 L615.87,185.26 L615.76,186.73 L615.64,188.20 L615.58,189.63 L615.65,190.97 L615.90,192.15 L616.34,193.13 L616.95,193.88 L617.69,194.38 L618.48,194.60 L619.25,194.55 L619.91,194.24 L620.42,193.69 L620.73,192.93 L620.86,192.00 L620.84,190.95 L620.73,189.83 L620.61,188.71 L620.56,187.64 L620.64,186.67 L620.90,185.86 L621.36,185.24 L621.98,184.86 L622.73,184.74 L623.52,184.89 L624.28,185.31 L624.93,185.99 L625.42,186.92 L625.72,188.05 L625.84,189.34 L625.81,190.75 L625.70,192.22 L625.58,193.70 L625.53,195.12 L625.63,196.43 L625.90,197.58 L626.37,198.53 L627.01,199.25 L627.76,199.70 L628.55,199.89 L629.31,199.80 L629.95,199.45 L630.43,198.86 L630.71,198.07 L630.82,197.12 L630.78,196.06 L630.66,194.94 L630.55,193.82 L630.51,192.76 L630.62,191.81 L630.91,191.02 L631.39,190.44 L632.04,190.10 L632.79,190.02 L633.59,190.21 L634.33,190.67 L634.97,191.39 L635.43,192.35 L635.70,193.51 L635.79,194.82 L635.75,196.24 L635.63,197.72 L635.51,199.19 L635.49,200.59 L635.61,201.88 L635.91,203.01 L636.41,203.93 L637.06,204.61 L637.83,205.02 L638.62,205.16 L639.36,205.03 L639.98,204.65 L640.43,204.03 L640.69,203.21 L640.77,202.24 L640.71,201.16 L640.59,200.04 L640.48,198.93 L640.46,197.88 L640.60,196.95 L640.92,196.20 L641.43,195.65 L642.09,195.34 L642.86,195.30 L643.65,195.53 L644.39,196.04 L645.00,196.79 L645.43,197.78 L645.68,198.97 L645.74,200.30 L645.68,201.74 L645.56,203.21 L645.45,204.68 L645.44,206.07 L645.59,207.34 L645.92,208.44 L646.45,209.32 L647.12,209.96 L647.90,210.33 L648.69,210.43 L649.41,210.27 L650.01,209.84" fill="none" stroke="#e6e6e6" stroke-width="0.9"/>
<path d="M591.07,200.71 L591.42,200.13 L591.60,199.41 L591.64,198.59 L591.58,197.71 L591.48,196.80 L591.42,195.91 L591.44,195.08 L591.60,194.34 L591.91,193.74 L592.40,193.28 L593.02,193.01 L593.74,192.94 L594.50,193.07 L595.24,193.40 L595.89,193.93 L596.40,194.65 L596.75,195.53 L596.94,196.55 L596.99,197.66 L596.93,198.84 L596.84,200.05 L596.77,201.24 L596.79,202.37 L596.93,203.41 L597.24,204.33 L597.72,205.09 L598.34,205.67 L599.06,206.06 L599.82,206.24 L600.55,206.21 L601.21,205.99 L601.73,205.58 L602.09,205.01 L602.29,204.30 L602.34,203.49 L602.29,202.61 L602.19,201.71 L602.12,200.82 L602.13,199.98 L602.27,199.23 L602.57,198.61 L603.04,198.14 L603.65,197.85 L604.37,197.75 L605.13,197.86 L605.87,198.17 L606.53,198.69 L607.06,199.39 L607.43,200.25 L607.63,201.25 L607.69,202.36 L607.64,203.54 L607.55,204.74 L607.47,205.93 L607.48,207.08 L607.61,208.13 L607.91,209.06 L608.36,209.84 L608.97,210.44 L609.68,210.84 L610.44,211.04 L611.18,211.04 L611.85,210.83 L612.38,210.44 L612.76,209.89 L612.97,209.19 L613.04,208.39 L613.00,207.52 L612.90,206.61 L612.83,205.72 L612.83,204.87 L612.95,204.11 L613.24,203.48 L613.69,202.99 L614.29,202.68 L614.99,202.57 L615.75,202.65 L616.50,202.95 L617.17,203.44 L617.71,204.13 L618.10,204.97 L618.32,205.96 L618.39,207.06 L618.35,208.23 L618.26,209.43 L618.18,210.63 L618.17,211.78 L618.29,212.84 L618.57,213.79 L619.01,214.58 L619.60,215.20 L620.31,215.63 L621.06,215.85 L621.81,215.86 L622.49,215.68 L623.04,215.31 L623.43,214.76 L623.66,214.08 L623.74,213.29 L623.70,212.42 L623.61,211.52 L623.53,210.62 L623.52,209.77 L623.63,209.00 L623.90,208.35 L624.34,207.85 L624.92,207.52 L625.62,207.38 L626.38,207.45 L627.13,207.72 L627.81,208.20 L628.36,208.86 L628.77,209.70 L629.00,210.67 L629.09,211.76 L629.06,212.93 L628.97,214.13 L628.88,215.33 L628.87,216.48 L628.97,217.56 L629.23,218.51 L629.66,219.32 L630.24,219.96 L630.93,220.41 L631.69,220.65 L632.44,220.69 L633.12,220.52 L633.69,220.17 L634.10,219.64 L634.34,218.97 L634.43,218.19 L634.41,217.32 L634.32,216.42 L634.24,215.52 L634.22,214.67 L634.31,213.89 L634.57,213.22 L634.99,212.70 L635.56,212.36 L636.25,212.20 L637.00,212.25 L637.75,212.50 L638.44,212.96 L639.01,213.60 L639.43,214.42 L639.69,215.39 L639.78,216.47 L639.76,217.62 L639.68,218.82 L639.59,220.02 L639.57,221.19 L639.66,222.27 L639.90,223.24 L640.31,224.07 L640.88,224.72 L641.56,225.19 L642.31,225.45 L643.07,225.51 L643.76,225.36 L644.34,225.02 L644.77,224.51 L645.03,223.86 L645.13,223.08 L645.12,222.23 L645.03,221.33" fill="none" stroke="#454545" stroke-width="2.7"/>
<path d="M591.07,200.71 L591.42,200.13 L591.60,199.41 L591.64,198.59 L591.58,197.71 L591.48,196.80 L591.42,195.91 L591.44,195.08 L591.60,194.34 L591.91,193.74 L592.40,193.28 L593.02,193.01 L593.74,192.94 L594.50,193.07 L595.24,193.40 L595.89,193.93 L596.40,194.65 L596.75,195.53 L596.94,196.55 L596.99,197.66 L596.93,198.84 L596.84,200.05 L596.77,201.24 L596.79,202.37 L596.93,203.41 L597.24,204.33 L597.72,205.09 L598.34,205.67 L599.06,206.06 L599.82,206.24 L600.55,206.21 L601.21,205.99 L601.73,205.58 L602.09,205.01 L602.29,204.30 L602.34,203.49 L602.29,202.61 L602.19,201.71 L602.12,200.82 L602.13,199.98 L602.27,199.23 L602.57,198.61 L603.04,198.14 L603.65,197.85 L604.37,197.75 L605.13,197.86 L605.87,198.17 L606.53,198.69 L607.06,199.39 L607.43,200.25 L607.63,201.25 L607.69,202.36 L607.64,203.54 L607.55,204.74 L607.47,205.93 L607.48,207.08 L607.61,208.13 L607.91,209.06 L608.36,209.84 L608.97,210.44 L609.68,210.84 L610.44,211.04 L611.18,211.04 L611.85,210.83 L612.38,210.44 L612.76,209.89 L612.97,209.19 L613.04,208.39 L613.00,207.52 L612.90,206.61 L612.83,205.72 L612.83,204.87 L612.95,204.11 L613.24,203.48 L613.69,202.99 L614.29,202.68 L614.99,202.57 L615.75,202.65 L616.50,202.95 L617.17,203.44 L617.71,204.13 L618.10,204.97 L618.32,205.96 L618.39,207.06 L618.35,208.23 L618.26,209.43 L618.18,210.63 L618.17,211.78 L618.29,212.84 L618.57,213.79 L619.01,214.58 L619.60,215.20 L620.31,215.63 L621.06,215.85 L621.81,215.86 L622.49,215.68 L623.04,215.31 L623.43,214.76 L623.66,214.08 L623.74,213.29 L623.70,212.42 L623.61,211.52 L623.53,210.62 L623.52,209.77 L623.63,209.00 L623.90,208.35 L624.34,207.85 L624.92,207.52 L625.62,207.38 L626.38,207.45 L627.13,207.72 L627.81,208.20 L628.36,208.86 L628.77,209.70 L629.00,210.67 L629.09,211.76 L629.06,212.93 L628.97,214.13 L628.88,215.33 L628.87,216.48 L628.97,217.56 L629.23,218.51 L629.66,219.32 L630.24,219.96 L630.93,220.41 L631.69,220.65 L632.44,220.69 L633.12,220.52 L633.69,220.17 L634.10,219.64 L634.34,218.97 L634.43,218.19 L634.41,217.32 L634.32,216.42 L634.24,215.52 L634.22,214.67 L634.31,213.89 L634.57,213.22 L634.99,212.70 L635.56,212.36 L636.25,212.20 L637.00,212.25 L637.75,212.50 L638.44,212.96 L639.01,213.60 L639.43,214.42 L639.69,215.39 L639.78,216.47 L639.76,217.62 L639.68,218.82 L639.59,220.02 L639.57,221.19 L639.66,222.27 L639.90,223.24 L640.31,224.07 L640.88,224.72 L641.56,225.19 L642.31,225.45 L643.07,225.51 L643.76,225.36 L644.34,225.02 L644.77,224.51 L645.03,223.86 L645.13,223.08 L645.12,222.23 L645.03,221.33" fill="none" stroke="#e6e6e6" stroke-width="0.9"/>
<g transform="translate(156.25,52.05) scale(0.9596,0.9000)" fill="none" stroke="#444" stroke-width="0.968" stroke-linecap="round" stroke-linejoin="round"><path transform="translate(0.00,0)" d="M6.2,0.5 C5.0,0.0 2.6,-0.1 1.4,1.1 C0.5,2.1 0.2,4.2 0.2,6.6 M0.2,6.7 C0.2,5.3 1.8,4.5 3.9,4.5 C6.2,4.5 7.8,5.3 7.8,6.8 C7.8,8.2 6.2,9 3.9,9 C1.8,9 0.2,8.2 0.2,6.7 Z"/><path transform="translate(10.20,0)" d="M5.3,9 L5.3,0 L0,6.5 L7.2,6.5"/><path transform="translate(19.80,0)" d="M0,2.4 C0,0.8 1,0 2.7,0 C4.4,0 5.4,0.8 5.4,2.4 L5.4,6.6 C5.4,8.2 4.4,9 2.7,9 C1,9 0,8.2 0,6.6 Z"/><path transform="translate(27.60,0)" d="M6.2,0.5 C5.0,0.0 2.6,-0.1 1.4,1.1 C0.5,2.1 0.2,4.2 0.2,6.6 M0.2,6.7 C0.2,5.3 1.8,4.5 3.9,4.5 C6.2,4.5 7.8,5.3 7.8,6.8 C7.8,8.2 6.2,9 3.9,9 C1.8,9 0.2,8.2 0.2,6.7 Z"/><path transform="translate(37.80,0)" d="M0.2,1.9 L2.1,0 L2.1,9 M0,9 L4.3,9"/></g>
<g transform="translate(157.25,126.95) scale(0.9942,0.9444)" fill="none" stroke="#444" stroke-width="0.929" stroke-linecap="round" stroke-linejoin="round"><path transform="translate(0.00,0)" d="M6.2,0.5 C5.0,0.0 2.6,-0.1 1.4,1.1 C0.5,2.1 0.2,4.2 0.2,6.6 M0.2,6.7 C0.2,5.3 1.8,4.5 3.9,4.5 C6.2,4.5 7.8,5.3 7.8,6.8 C7.8,8.2 6.2,9 3.9,9 C1.8,9 0.2,8.2 0.2,6.7 Z"/><path transform="translate(10.20,0)" d="M5.3,9 L5.3,0 L0,6.5 L7.2,6.5"/><path transform="translate(19.80,0)" d="M0.2,1.9 L2.1,0 L2.1,9 M0,9 L4.3,9"/><path transform="translate(26.50,0)" d="M0,2.4 C0,0.8 1,0 2.7,0 C4.4,0 5.4,0.8 5.4,2.4 L5.4,6.6 C5.4,8.2 4.4,9 2.7,9 C1,9 0,8.2 0,6.6 Z"/><path transform="translate(34.30,0)" d="M6.2,0.5 C5.0,0.0 2.6,-0.1 1.4,1.1 C0.5,2.1 0.2,4.2 0.2,6.6 M0.2,6.7 C0.2,5.3 1.8,4.5 3.9,4.5 C6.2,4.5 7.8,5.3 7.8,6.8 C7.8,8.2 6.2,9 3.9,9 C1.8,9 0.2,8.2 0.2,6.7 Z"/><path transform="translate(44.50,0)" d="M0,0 L0,9 L4.4,9 C6.1,9 6.9,8 6.9,6.7 C6.9,5.3 6,4.4 4.3,4.4 L0,4.4 M0,0 L4.1,0 C5.7,0 6.5,0.9 6.5,2.2 C6.5,3.5 5.6,4.4 4.3,4.4"/></g>
<g transform="translate(182.25,146.35) scale(0.9753,0.9444)" fill="none" stroke="#444" stroke-width="0.938" stroke-linecap="round" stroke-linejoin="round"><path transform="translate(0.00,0)" d="M6.2,0.5 C5.0,0.0 2.6,-0.1 1.4,1.1 C0.5,2.1 0.2,4.2 0.2,6.6 M0.2,6.7 C0.2,5.3 1.8,4.5 3.9,4.5 C6.2,4.5 7.8,5.3 7.8,6.8 C7.8,8.2 6.2,9 3.9,9 C1.8,9 0.2,8.2 0.2,6.7 Z"/><path transform="translate(10.20,0)" d="M5.3,9 L5.3,0 L0,6.5 L7.2,6.5"/><path transform="translate(19.80,0)" d="M0.2,1.9 L2.1,0 L2.1,9 M0,9 L4.3,9"/><path transform="translate(26.50,0)" d="M0,2.4 C0,0.8 1,0 2.7,0 C4.4,0 5.4,0.8 5.4,2.4 L5.4,6.6 C5.4,8.2 4.4,9 2.7,9 C1,9 0,8.2 0,6.6 Z"/><path transform="translate(34.30,0)" d="M6.2,0.5 C5.0,0.0 2.6,-0.1 1.4,1.1 C0.5,2.1 0.2,4.2 0.2,6.6 M0.2,6.7 C0.2,5.3 1.8,4.5 3.9,4.5 C6.2,4.5 7.8,5.3 7.8,6.8 C7.8,8.2 6.2,9 3.9,9 C1.8,9 0.2,8.2 0.2,6.7 Z"/><path transform="translate(44.50,0)" d="M0,9 L4.1,0 L8.2,9 M1.6,5.6 L6.6,5.6"/></g>
<g transform="translate(297.95,175.15) scale(0.9711,0.9444)" fill="none" stroke="#444" stroke-width="0.940" stroke-linecap="round" stroke-linejoin="round"><path transform="translate(0.00,0)" d="M6.2,0.5 C5.0,0.0 2.6,-0.1 1.4,1.1 C0.5,2.1 0.2,4.2 0.2,6.6 M0.2,6.7 C0.2,5.3 1.8,4.5 3.9,4.5 C6.2,4.5 7.8,5.3 7.8,6.8 C7.8,8.2 6.2,9 3.9,9 C1.8,9 0.2,8.2 0.2,6.7 Z"/><path transform="translate(10.20,0)" d="M5.3,9 L5.3,0 L0,6.5 L7.2,6.5"/><path transform="translate(19.80,0)" d="M0.2,1.9 L2.1,0 L2.1,9 M0,9 L4.3,9"/><path transform="translate(26.50,0)" d="M6.6,0 L1.0,0 L0.6,4.0 C1.6,3.5 2.6,3.3 3.7,3.3 C5.9,3.3 7,4.4 7,6.1 C7,7.9 5.7,9 3.5,9 C2.1,9 1,8.6 0,7.8"/><path transform="translate(35.90,0)" d="M0,2.4 C0,0.8 1,0 2.7,0 C4.4,0 5.4,0.8 5.4,2.4 L5.4,6.6 C5.4,8.2 4.4,9 2.7,9 C1,9 0,8.2 0,6.6 Z"/><path transform="translate(43.70,0)" d="M0,9 L4.1,0 L8.2,9 M1.6,5.6 L6.6,5.6"/></g>
<g transform="translate(504.05,180.35) scale(0.9770,0.8889)" fill="none" stroke="#444" stroke-width="0.965" stroke-linecap="round" stroke-linejoin="round"><path transform="translate(0.00,0)" d="M6.2,0.5 C5.0,0.0 2.6,-0.1 1.4,1.1 C0.5,2.1 0.2,4.2 0.2,6.6 M0.2,6.7 C0.2,5.3 1.8,4.5 3.9,4.5 C6.2,4.5 7.8,5.3 7.8,6.8 C7.8,8.2 6.2,9 3.9,9 C1.8,9 0.2,8.2 0.2,6.7 Z"/><path transform="translate(10.20,0)" d="M5.3,9 L5.3,0 L0,6.5 L7.2,6.5"/><path transform="translate(19.80,0)" d="M0.2,1.9 L2.1,0 L2.1,9 M0,9 L4.3,9"/><path transform="translate(26.50,0)" d="M0.4,1.1 C1.4,0.3 2.4,0 3.6,0 C5.7,0 6.8,0.9 6.8,2.2 C6.8,3.6 5.4,4.3 3.3,4.3 M3.3,4.3 C5.8,4.3 7.2,5.2 7.2,6.6 C7.2,8.2 5.7,9 3.6,9 C2.2,9 1,8.6 0,7.8"/><path transform="translate(36.10,0)" d="M0,2.4 C0,0.8 1,0 2.7,0 C4.4,0 5.4,0.8 5.4,2.4 L5.4,6.6 C5.4,8.2 4.4,9 2.7,9 C1,9 0,8.2 0,6.6 Z"/><path transform="translate(43.90,0)" d="M0,9 L4.1,0 L8.2,9 M1.6,5.6 L6.6,5.6"/></g>
<g transform="translate(232.65,207.35) scale(0.9674,0.9667)" fill="none" stroke="#444" stroke-width="0.931" stroke-linecap="round" stroke-linejoin="round"><path transform="translate(0.00,0)" d="M6.2,0.5 C5.0,0.0 2.6,-0.1 1.4,1.1 C0.5,2.1 0.2,4.2 0.2,6.6 M0.2,6.7 C0.2,5.3 1.8,4.5 3.9,4.5 C6.2,4.5 7.8,5.3 7.8,6.8 C7.8,8.2 6.2,9 3.9,9 C1.8,9 0.2,8.2 0.2,6.7 Z"/><path transform="translate(10.20,0)" d="M5.3,9 L5.3,0 L0,6.5 L7.2,6.5"/><path transform="translate(19.80,0)" d="M0.2,1.9 L2.1,0 L2.1,9 M0,9 L4.3,9"/><path transform="translate(26.50,0)" d="M5.3,9 L5.3,0 L0,6.5 L7.2,6.5"/><path transform="translate(36.10,0)" d="M0,2.4 C0,0.8 1,0 2.7,0 C4.4,0 5.4,0.8 5.4,2.4 L5.4,6.6 C5.4,8.2 4.4,9 2.7,9 C1,9 0,8.2 0,6.6 Z"/><path transform="translate(43.90,0)" d="M0,9 L4.1,0 L8.2,9 M1.6,5.6 L6.6,5.6"/></g>
<g transform="translate(219.75,247.55) scale(0.9981,0.9889)" fill="none" stroke="#444" stroke-width="0.906" stroke-linecap="round" stroke-linejoin="round"><path transform="translate(0.00,0)" d="M6.2,0.5 C5.0,0.0 2.6,-0.1 1.4,1.1 C0.5,2.1 0.2,4.2 0.2,6.6 M0.2,6.7 C0.2,5.3 1.8,4.5 3.9,4.5 C6.2,4.5 7.8,5.3 7.8,6.8 C7.8,8.2 6.2,9 3.9,9 C1.8,9 0.2,8.2 0.2,6.7 Z"/><path transform="translate(10.20,0)" d="M5.3,9 L5.3,0 L0,6.5 L7.2,6.5"/><path transform="translate(19.80,0)" d="M0.2,1.9 L2.1,0 L2.1,9 M0,9 L4.3,9"/><path transform="translate(26.50,0)" d="M0.4,2.2 C0.9,0.6 2.2,0 3.6,0 C5.6,0 6.7,1 6.7,2.5 C6.7,3.8 5.6,4.7 3.6,5.8 L0.2,8.4 L0.2,9 L7,9"/><path transform="translate(35.90,0)" d="M0,2.4 C0,0.8 1,0 2.7,0 C4.4,0 5.4,0.8 5.4,2.4 L5.4,6.6 C5.4,8.2 4.4,9 2.7,9 C1,9 0,8.2 0,6.6 Z"/><path transform="translate(43.70,0)" d="M0,9 L4.1,0 L8.2,9 M1.6,5.6 L6.6,5.6"/></g>
<g transform="translate(210.05,316.25) scale(0.9667,1.0444)" fill="none" stroke="#444" stroke-width="0.895" stroke-linecap="round" stroke-linejoin="round"><path transform="translate(0.00,0)" d="M6.2,0.5 C5.0,0.0 2.6,-0.1 1.4,1.1 C0.5,2.1 0.2,4.2 0.2,6.6 M0.2,6.7 C0.2,5.3 1.8,4.5 3.9,4.5 C6.2,4.5 7.8,5.3 7.8,6.8 C7.8,8.2 6.2,9 3.9,9 C1.8,9 0.2,8.2 0.2,6.7 Z"/><path transform="translate(10.20,0)" d="M5.3,9 L5.3,0 L0,6.5 L7.2,6.5"/><path transform="translate(19.80,0)" d="M0.2,1.9 L2.1,0 L2.1,9 M0,9 L4.3,9"/><path transform="translate(26.50,0)" d="M0,2.4 C0,0.8 1,0 2.7,0 C4.4,0 5.4,0.8 5.4,2.4 L5.4,6.6 C5.4,8.2 4.4,9 2.7,9 C1,9 0,8.2 0,6.6 Z"/><path transform="translate(34.30,0)" d="M0,2.4 C0,0.8 1,0 2.7,0 C4.4,0 5.4,0.8 5.4,2.4 L5.4,6.6 C5.4,8.2 4.4,9 2.7,9 C1,9 0,8.2 0,6.6 Z"/><path transform="translate(42.10,0)" d="M0,9 L4.1,0 L8.2,9 M1.6,5.6 L6.6,5.6"/><path transform="translate(52.70,0)" d="M0,9 L4.1,0 L8.2,9 M1.6,5.6 L6.6,5.6"/><path transform="translate(63.30,0)" d="M3.6,1.3 L3.6,8.3 M0,4.8 L7.2,4.8 M1.1,2.2 L6.1,7.4 M1.1,7.4 L6.1,2.2"/><path transform="translate(72.90,0)" d="M0,9 L4.1,0 L8.2,9 M1.6,5.6 L6.6,5.6"/></g>
<g transform="translate(427.85,378.95) scale(0.9886,1.0111)" fill="none" stroke="#444" stroke-width="0.900" stroke-linecap="round" stroke-linejoin="round"><path transform="translate(0.00,0)" d="M6.2,0.5 C5.0,0.0 2.6,-0.1 1.4,1.1 C0.5,2.1 0.2,4.2 0.2,6.6 M0.2,6.7 C0.2,5.3 1.8,4.5 3.9,4.5 C6.2,4.5 7.8,5.3 7.8,6.8 C7.8,8.2 6.2,9 3.9,9 C1.8,9 0.2,8.2 0.2,6.7 Z"/><path transform="translate(10.20,0)" d="M5.3,9 L5.3,0 L0,6.5 L7.2,6.5"/><path transform="translate(19.80,0)" d="M0.2,1.9 L2.1,0 L2.1,9 M0,9 L4.3,9"/><path transform="translate(26.50,0)" d="M0,2.4 C0,0.8 1,0 2.7,0 C4.4,0 5.4,0.8 5.4,2.4 L5.4,6.6 C5.4,8.2 4.4,9 2.7,9 C1,9 0,8.2 0,6.6 Z"/><path transform="translate(34.30,0)" d="M6.6,0 L1.0,0 L0.6,4.0 C1.6,3.5 2.6,3.3 3.7,3.3 C5.9,3.3 7,4.4 7,6.1 C7,7.9 5.7,9 3.5,9 C2.1,9 1,8.6 0,7.8"/><path transform="translate(43.70,0)" d="M0,9 L4.1,0 L8.2,9 M1.6,5.6 L6.6,5.6"/><path transform="translate(54.30,0)" d="M7.0,1.4 C6.2,0.4 5.1,0 3.8,0 C1.3,0 0,1.8 0,4.5 C0,7.2 1.3,9 3.8,9 C5.2,9 6.3,8.5 7.2,7.5"/></g>
<g transform="translate(420.15,407.15) scale(0.9837,1.0111)" fill="none" stroke="#444" stroke-width="0.902" stroke-linecap="round" stroke-linejoin="round"><path transform="translate(0.00,0)" d="M0,2.4 C0,0.8 1,0 2.7,0 C4.4,0 5.4,0.8 5.4,2.4 L5.4,6.6 C5.4,8.2 4.4,9 2.7,9 C1,9 0,8.2 0,6.6 Z"/><path transform="translate(7.80,0)" d="M5.3,9 L5.3,0 L0,6.5 L7.2,6.5"/><path transform="translate(17.40,0)" d="M6.6,0 L1.0,0 L0.6,4.0 C1.6,3.5 2.6,3.3 3.7,3.3 C5.9,3.3 7,4.4 7,6.1 C7,7.9 5.7,9 3.5,9 C2.1,9 1,8.6 0,7.8"/><path transform="translate(26.80,0)" d="M0.2,1.9 L2.1,0 L2.1,9 M0,9 L4.3,9"/><path transform="translate(33.50,0)" d="M7.3,1.2 C6.6,0.3 5.3,0 3.9,0 C1.6,0 0.4,0.8 0.5,2.0 C0.6,2.8 1.2,3.3 2.0,3.8 L6.4,6.0 C7.2,6.4 7.5,6.9 7.4,7.5 C7.2,8.5 5.9,9 3.9,9 C2.3,9 1.0,8.6 0.1,7.8"/><path transform="translate(43.50,0)" d="M3.6,1.3 L3.6,8.3 M0,4.8 L7.2,4.8 M1.1,2.2 L6.1,7.4 M1.1,7.4 L6.1,2.2"/><path transform="translate(53.10,0)" d="M0,9 L4.1,0 L8.2,9 M1.6,5.6 L6.6,5.6"/></g>
<g transform="translate(554.25,45.45) scale(1.0108,0.9111)" fill="none" stroke="#444" stroke-width="0.937" stroke-linecap="round" stroke-linejoin="round"><path transform="translate(0.00,0)" d="M6.9,0 L0,0 L0,9 M0,4.4 L5.2,4.4"/><path transform="translate(9.30,0)" d="M0,0 L3.4,0 M1.7,0 L1.7,9 M0,9 L3.4,9"/><path transform="translate(15.10,0)" d="M7.6,1.4 C6.8,0.4 5.6,0 4.1,0 C1.4,0 0,1.8 0,4.5 C0,7.2 1.4,9 4.1,9 C5.7,9 7,8.5 8.2,7.6 L8.2,5.0 L4.6,5.0"/><path transform="translate(25.70,0)" d="M0.5,8.4 L0.5,9.0"/><path transform="translate(29.10,0)" d="M0.4,1.1 C1.4,0.3 2.4,0 3.6,0 C5.7,0 6.8,0.9 6.8,2.2 C6.8,3.6 5.4,4.3 3.3,4.3 M3.3,4.3 C5.8,4.3 7.2,5.2 7.2,6.6 C7.2,8.2 5.7,9 3.6,9 C2.2,9 1,8.6 0,7.8"/><path transform="translate(38.70,0)" d="M5.3,9 L5.3,0 L0,6.5 L7.2,6.5"/><path transform="translate(48.30,0)" d="M0.4,1.1 C1.4,0.3 2.4,0 3.6,0 C5.7,0 6.8,0.9 6.8,2.2 C6.8,3.6 5.4,4.3 3.3,4.3 M3.3,4.3 C5.8,4.3 7.2,5.2 7.2,6.6 C7.2,8.2 5.7,9 3.6,9 C2.2,9 1,8.6 0,7.8"/></g>
<g transform="translate(710.25,126.45) scale(1.0000,0.9444)" fill="none" stroke="#444" stroke-width="0.926" stroke-linecap="round" stroke-linejoin="round"><path transform="translate(0.00,0)" d="M6.2,0.5 C5.0,0.0 2.6,-0.1 1.4,1.1 C0.5,2.1 0.2,4.2 0.2,6.6 M0.2,6.7 C0.2,5.3 1.8,4.5 3.9,4.5 C6.2,4.5 7.8,5.3 7.8,6.8 C7.8,8.2 6.2,9 3.9,9 C1.8,9 0.2,8.2 0.2,6.7 Z"/><path transform="translate(10.20,0)" d="M5.3,9 L5.3,0 L0,6.5 L7.2,6.5"/><path transform="translate(19.80,0)" d="M0.2,1.9 L2.1,0 L2.1,9 M0,9 L4.3,9"/><path transform="translate(26.50,0)" d="M0.2,1.9 L2.1,0 L2.1,9 M0,9 L4.3,9"/><path transform="translate(33.20,0)" d="M0,2.4 C0,0.8 1,0 2.7,0 C4.4,0 5.4,0.8 5.4,2.4 L5.4,6.6 C5.4,8.2 4.4,9 2.7,9 C1,9 0,8.2 0,6.6 Z"/><path transform="translate(41.00,0)" d="M0,9 L4.1,0 L8.2,9 M1.6,5.6 L6.6,5.6"/><path transform="translate(51.60,0)" d="M3.4,1.0 C1.4,2.7 0.3,3.8 0.3,4.8 C0.3,5.8 1.4,6.9 3.4,8.4"/><path transform="translate(57.60,0)" d="M0,4.6 L6.8,4.6"/><path transform="translate(66.80,0)" d="M7,0 L0,0 L0,9 L7,9 M0,4.4 L5.2,4.4"/><path transform="translate(76.20,0)" d="M0,2.4 C0,0.8 1,0 2.7,0 C4.4,0 5.4,0.8 5.4,2.4 L5.4,6.6 C5.4,8.2 4.4,9 2.7,9 C1,9 0,8.2 0,6.6 Z"/><path transform="translate(84.00,0)" d="M0,0 L7.2,0 L2.3,9"/><path transform="translate(93.60,0)" d="M0,2.4 C0,0.8 1,0 2.7,0 C4.4,0 5.4,0.8 5.4,2.4 L5.4,6.6 C5.4,8.2 4.4,9 2.7,9 C1,9 0,8.2 0,6.6 Z"/><path transform="translate(101.40,0)" d="M6.2,0.5 C5.0,0.0 2.6,-0.1 1.4,1.1 C0.5,2.1 0.2,4.2 0.2,6.6 M0.2,6.7 C0.2,5.3 1.8,4.5 3.9,4.5 C6.2,4.5 7.8,5.3 7.8,6.8 C7.8,8.2 6.2,9 3.9,9 C1.8,9 0.2,8.2 0.2,6.7 Z"/><path transform="translate(111.60,0)" d="M0.2,1.0 C2.2,2.7 3.3,3.8 3.3,4.8 C3.3,5.8 2.2,6.9 0.2,8.4"/></g>
<g transform="translate(710.25,139.65) scale(1.0150,0.8556)" fill="none" stroke="#444" stroke-width="0.962" stroke-linecap="round" stroke-linejoin="round"><path transform="translate(0.00,0)" d="M6.2,0.5 C5.0,0.0 2.6,-0.1 1.4,1.1 C0.5,2.1 0.2,4.2 0.2,6.6 M0.2,6.7 C0.2,5.3 1.8,4.5 3.9,4.5 C6.2,4.5 7.8,5.3 7.8,6.8 C7.8,8.2 6.2,9 3.9,9 C1.8,9 0.2,8.2 0.2,6.7 Z"/><path transform="translate(10.20,0)" d="M5.3,9 L5.3,0 L0,6.5 L7.2,6.5"/><path transform="translate(19.80,0)" d="M0.2,1.9 L2.1,0 L2.1,9 M0,9 L4.3,9"/><path transform="translate(26.50,0)" d="M0.2,1.9 L2.1,0 L2.1,9 M0,9 L4.3,9"/><path transform="translate(33.20,0)" d="M0,2.4 C0,0.8 1,0 2.7,0 C4.4,0 5.4,0.8 5.4,2.4 L5.4,6.6 C5.4,8.2 4.4,9 2.7,9 C1,9 0,8.2 0,6.6 Z"/><path transform="translate(41.00,0)" d="M7.0,1.4 C6.2,0.4 5.1,0 3.8,0 C1.3,0 0,1.8 0,4.5 C0,7.2 1.3,9 3.8,9 C5.2,9 6.3,8.5 7.2,7.5"/><path transform="translate(50.60,0)" d="M3.4,1.0 C1.4,2.7 0.3,3.8 0.3,4.8 C0.3,5.8 1.4,6.9 3.4,8.4"/><path transform="translate(56.60,0)" d="M6.9,0 L0,0 L0,9 M0,4.4 L5.2,4.4"/><path transform="translate(65.90,0)" d="M0,2.4 C0,0.8 1,0 2.7,0 C4.4,0 5.4,0.8 5.4,2.4 L5.4,6.6 C5.4,8.2 4.4,9 2.7,9 C1,9 0,8.2 0,6.6 Z"/><path transform="translate(73.70,0)" d="M0,0 L7.2,0 L2.3,9"/><path transform="translate(83.30,0)" d="M0,2.4 C0,0.8 1,0 2.7,0 C4.4,0 5.4,0.8 5.4,2.4 L5.4,6.6 C5.4,8.2 4.4,9 2.7,9 C1,9 0,8.2 0,6.6 Z"/><path transform="translate(91.10,0)" d="M5.3,9 L5.3,0 L0,6.5 L7.2,6.5"/><path transform="translate(100.70,0)" d="M0,4.6 L6.8,4.6"/><path transform="translate(109.90,0)" d="M0.2,1.0 C2.2,2.7 3.3,3.8 3.3,4.8 C3.3,5.8 2.2,6.9 0.2,8.4"/></g>
<g transform="translate(593.55,290.45) scale(1.0114,0.9111)" fill="none" stroke="#444" stroke-width="0.936" stroke-linecap="round" stroke-linejoin="round"><path transform="translate(0.00,0)" d="M0,2.4 C0,0.8 1,0 2.7,0 C4.4,0 5.4,0.8 5.4,2.4 L5.4,6.6 C5.4,8.2 4.4,9 2.7,9 C1,9 0,8.2 0,6.6 Z"/><path transform="translate(7.80,0)" d="M0.4,2.2 C0.9,0.6 2.2,0 3.6,0 C5.6,0 6.7,1 6.7,2.5 C6.7,3.8 5.6,4.7 3.6,5.8 L0.2,8.4 L0.2,9 L7,9"/><path transform="translate(17.20,0)" d="M0.4,1.1 C1.4,0.3 2.4,0 3.6,0 C5.7,0 6.8,0.9 6.8,2.2 C6.8,3.6 5.4,4.3 3.3,4.3 M3.3,4.3 C5.8,4.3 7.2,5.2 7.2,6.6 C7.2,8.2 5.7,9 3.6,9 C2.2,9 1,8.6 0,7.8"/><path transform="translate(26.80,0)" d="M6.6,0 L1.0,0 L0.6,4.0 C1.6,3.5 2.6,3.3 3.7,3.3 C5.9,3.3 7,4.4 7,6.1 C7,7.9 5.7,9 3.5,9 C2.1,9 1,8.6 0,7.8"/><path transform="translate(36.20,0)" d="M7.3,1.2 C6.6,0.3 5.3,0 3.9,0 C1.6,0 0.4,0.8 0.5,2.0 C0.6,2.8 1.2,3.3 2.0,3.8 L6.4,6.0 C7.2,6.4 7.5,6.9 7.4,7.5 C7.2,8.5 5.9,9 3.9,9 C2.3,9 1.0,8.6 0.1,7.8"/></g>
<g transform="translate(759.25,415.95) scale(0.9778,0.9000)" fill="none" stroke="#444" stroke-width="0.959" stroke-linecap="round" stroke-linejoin="round"><path transform="translate(0.00,0)" d="M0,9 L4.1,0 L8.2,9 M1.6,5.6 L6.6,5.6"/><path transform="translate(10.60,0)" d="M6.2,0.5 C5.0,0.0 2.6,-0.1 1.4,1.1 C0.5,2.1 0.2,4.2 0.2,6.6 M0.2,6.7 C0.2,5.3 1.8,4.5 3.9,4.5 C6.2,4.5 7.8,5.3 7.8,6.8 C7.8,8.2 6.2,9 3.9,9 C1.8,9 0.2,8.2 0.2,6.7 Z"/><path transform="translate(20.80,0)" d="M5.3,9 L5.3,0 L0,6.5 L7.2,6.5"/><path transform="translate(30.40,0)" d="M0,2.4 C0,0.8 1,0 2.7,0 C4.4,0 5.4,0.8 5.4,2.4 L5.4,6.6 C5.4,8.2 4.4,9 2.7,9 C1,9 0,8.2 0,6.6 Z"/><path transform="translate(38.20,0)" d="M0,2.4 C0,0.8 1,0 2.7,0 C4.4,0 5.4,0.8 5.4,2.4 L5.4,6.6 C5.4,8.2 4.4,9 2.7,9 C1,9 0,8.2 0,6.6 Z"/><path transform="translate(46.00,0)" d="M0,2.4 C0,0.8 1,0 2.7,0 C4.4,0 5.4,0.8 5.4,2.4 L5.4,6.6 C5.4,8.2 4.4,9 2.7,9 C1,9 0,8.2 0,6.6 Z"/><path transform="translate(53.80,0)" d="M0.2,1.9 L2.1,0 L2.1,9 M0,9 L4.3,9"/><path transform="translate(60.50,0)" d="M5.3,9 L5.3,0 L0,6.5 L7.2,6.5"/><path transform="translate(70.10,0)" d="M0,2.4 C0,0.8 1,0 2.7,0 C4.4,0 5.4,0.8 5.4,2.4 L5.4,6.6 C5.4,8.2 4.4,9 2.7,9 C1,9 0,8.2 0,6.6 Z"/><path transform="translate(77.90,0)" d="M6.2,0.5 C5.0,0.0 2.6,-0.1 1.4,1.1 C0.5,2.1 0.2,4.2 0.2,6.6 M0.2,6.7 C0.2,5.3 1.8,4.5 3.9,4.5 C6.2,4.5 7.8,5.3 7.8,6.8 C7.8,8.2 6.2,9 3.9,9 C1.8,9 0.2,8.2 0.2,6.7 Z"/></g>
<g transform="translate(575.6,322.9) skewY(18)" fill="none" stroke="#444" stroke-width="0.9" stroke-linecap="round"><path d="M0,0 L3,0 M1.5,0 L1.5,9.4 M0,9.4 L3,9.4"/><path d="M5,11 L5,2.3 L11,11 L11,2.3"/></g>
</svg></body></html>
